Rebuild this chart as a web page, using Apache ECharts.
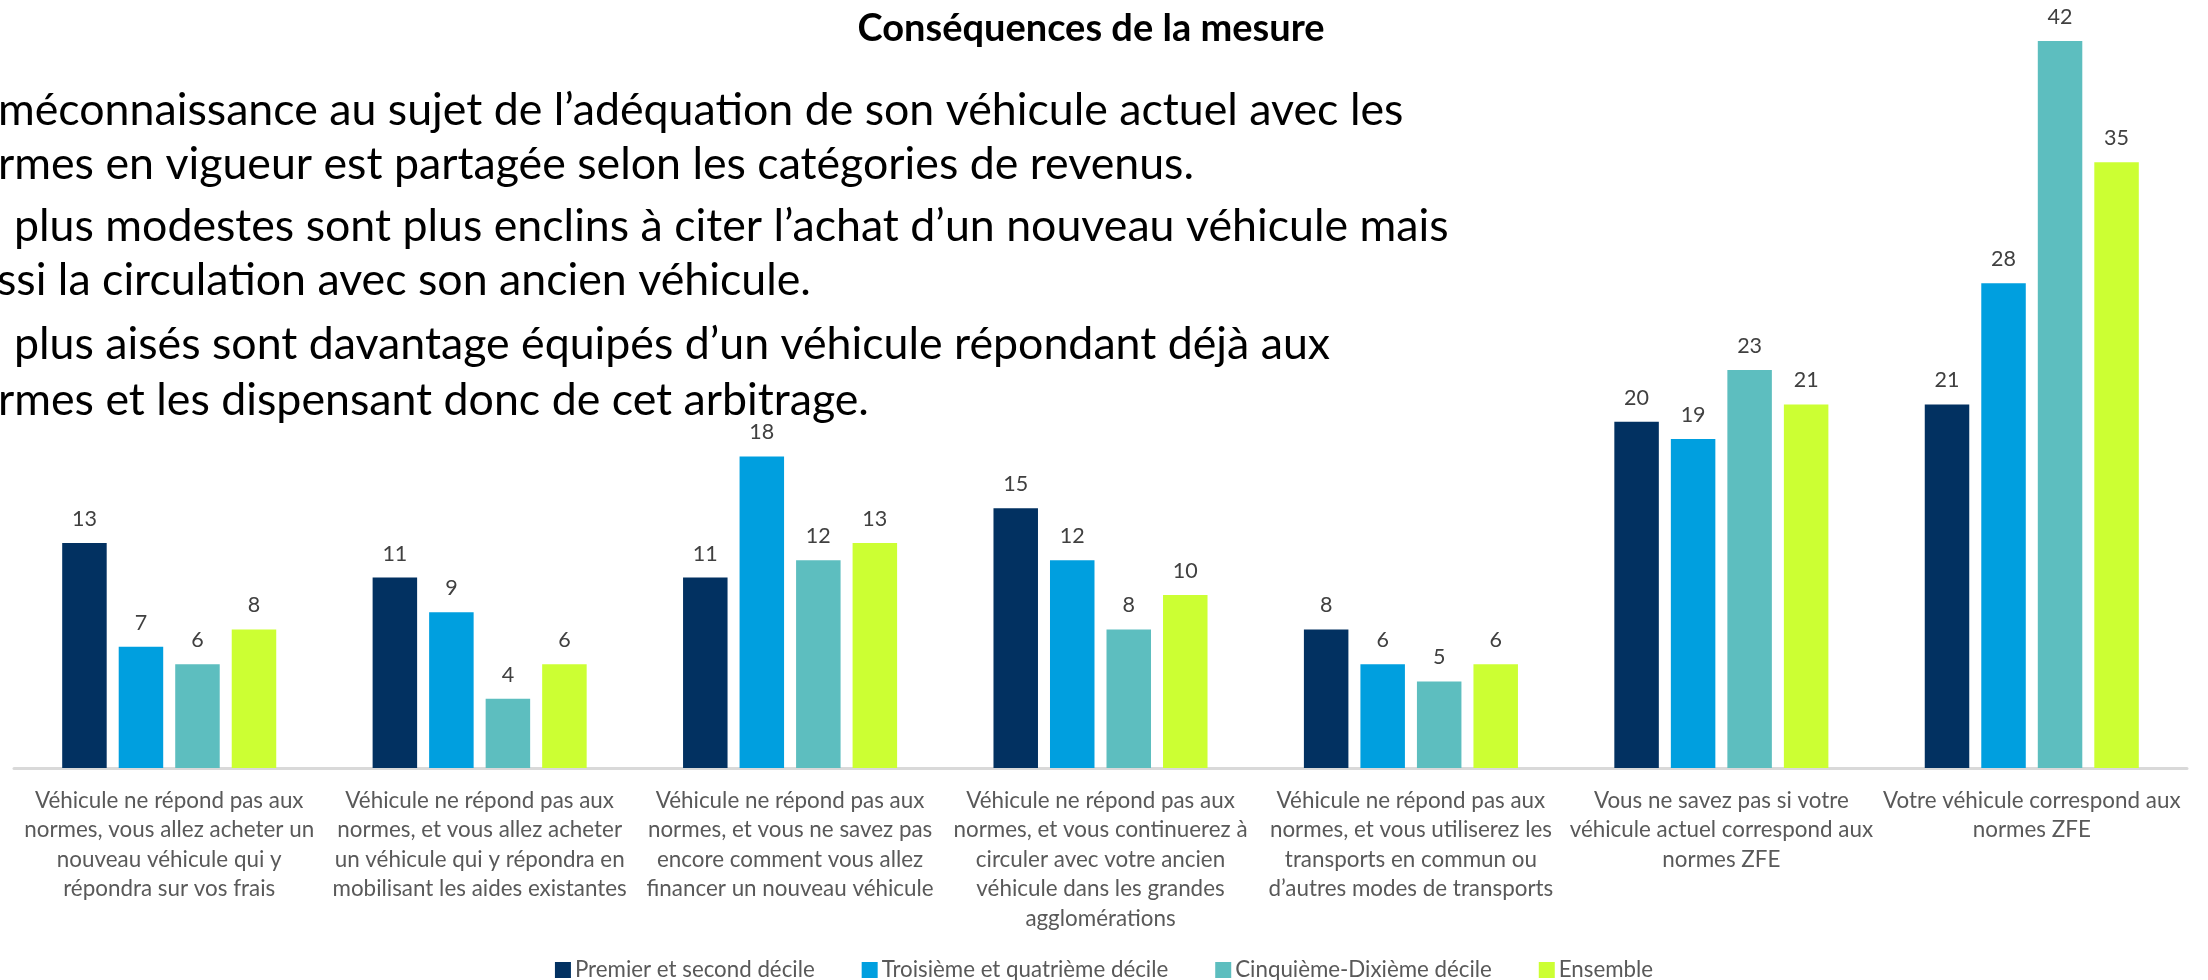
<!DOCTYPE html>
<html>
<head>
<meta charset="utf-8">
<style>
  html, body { margin: 0; padding: 0; background: #ffffff; }
  #chart { width: 2208px; height: 980px; }
</style>
<script src="https://cdn.jsdelivr.net/npm/echarts@6/dist/echarts.min.js"></script>
</head>
<body>
<div id="chart"></div>
<script>
// Categories (line breaks as laid out under the axis)
const categories = [
  "Véhicule ne répond pas aux\nnormes, vous allez acheter un\nnouveau véhicule qui y\nrépondra sur vos frais",
  "Véhicule ne répond pas aux\nnormes, et vous allez acheter\nun véhicule qui y répondra en\nmobilisant les aides existantes",
  "Véhicule ne répond pas aux\nnormes, et vous ne savez pas\nencore comment vous allez\nfinancer un nouveau véhicule",
  "Véhicule ne répond pas aux\nnormes, et vous continuerez à\ncirculer avec votre ancien\nvéhicule dans les grandes\nagglomérations",
  "Véhicule ne répond pas aux\nnormes, et vous utiliserez les\ntransports en commun ou\nd’autres modes de transports",
  "Vous ne savez pas si votre\nvéhicule actuel correspond aux\nnormes ZFE",
  "Votre véhicule correspond aux\nnormes ZFE"
];

const seriesNames = [
  "Premier et second décile",
  "Troisième et quatrième décile",
  "Cinquième-Dixième décile",
  "Ensemble"
];

const premierSecond = [13, 11, 11, 15, 8, 20, 21];
const troisiemeQuatrieme = [7, 9, 18, 12, 6, 19, 28];
const cinquiemeDixieme = [6, 4, 12, 8, 5, 23, 42];
const ensemble = [8, 6, 13, 10, 6, 21, 35];

const chartTitle = "Conséquences de la mesure";

const commentLines = [
  "méconnaissance au sujet de l’adéquation de son véhicule actuel avec les",
  "rmes en vigueur est partagée selon les catégories de revenus.",
  "plus modestes sont plus enclins à citer l’achat d’un nouveau véhicule mais",
  "ssi la circulation avec son ancien véhicule.",
  "plus aisés sont davantage équipés d’un véhicule répondant déjà aux",
  "rmes et les dispensant donc de cet arbitrage."
];

const colors = ["#023161", "#009FDF", "#5DBEBF", "#CCFF33"];
const FONT = "Lato, 'Open Sans', sans-serif";

// Placement of each comment line (left edge, vertical centre)
const commentX = [-2, -2, 14, -3, 14, -2];
const commentY = [111, 165, 227, 281, 345, 401];

const chart = echarts.init(document.getElementById("chart"), null, { renderer: "canvas" });

const valueSets = [premierSecond, troisiemeQuatrieme, cinquiemeDixieme, ensemble];

const series = valueSets.map((vals, i) => ({
  name: seriesNames[i],
  type: "bar",
  data: vals,
  barWidth: 44.5,
  barGap: "27%",
  itemStyle: { color: colors[i] },
  label: {
    show: true,
    position: "top",
    distance: 13,
    color: "#404040",
    fontFamily: FONT,
    fontSize: 21.5
  },
  emphasis: { disabled: true }
}));

const graphics = [
  {
    type: "text",
    x: 1091,
    y: 29,
    style: {
      text: chartTitle,
      font: "bold 38px " + FONT,
      fill: "#000000",
      align: "center",
      verticalAlign: "middle"
    }
  }
].concat(commentLines.map((t, i) => ({
  type: "text",
  x: commentX[i],
  y: commentY[i],
  style: {
    text: t,
    font: "44.7px " + FONT,
    fill: "#000000",
    verticalAlign: "middle"
  }
})));

chart.setOption({
  animation: false,
  color: colors,
  grid: { left: 14, right: 21, top: 41, bottom: 212, containLabel: false },
  legend: {
    data: seriesNames,
    top: 954,
    left: "center",
    itemWidth: 16,
    itemHeight: 16,
    itemGap: 47,
    icon: "rect",
    textStyle: { color: "#595959", fontFamily: FONT, fontSize: 22.3, lineHeight: 22, padding: [0, 0, 0, -1] }
  },
  xAxis: {
    type: "category",
    data: categories,
    axisLine: { show: true, lineStyle: { color: "#D9D9D9", width: 3 } },
    axisTick: { show: false },
    axisLabel: {
      interval: 0,
      margin: 18,
      color: "#595959",
      fontFamily: FONT,
      fontSize: 22.4,
      lineHeight: 29.5,
      align: "center"
    }
  },
  yAxis: {
    type: "value",
    min: 0,
    max: 42,
    show: false,
    splitLine: { show: false }
  },
  series: series,
  graphic: graphics
});
</script>
</body>
</html>
